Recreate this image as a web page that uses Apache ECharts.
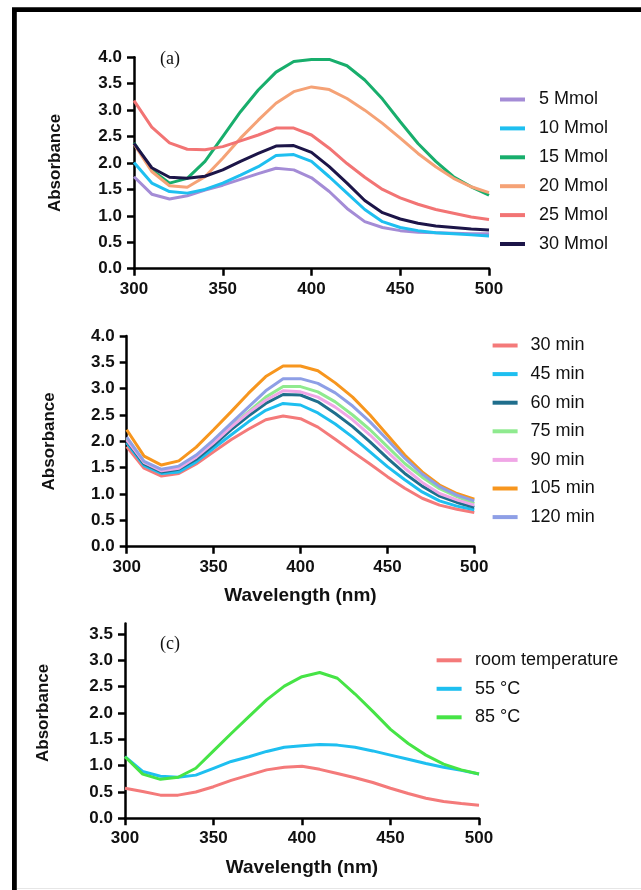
<!DOCTYPE html>
<html>
<head>
<meta charset="utf-8">
<script src="https://cdn.jsdelivr.net/npm/echarts@6/dist/echarts.min.js"></script>
<style>
html,body{margin:0;padding:0;background:#fff;}
#chart{width:641px;height:890px;}
</style>
</head>
<body>
<div id="chart"></div>
<script>
// ---------- data ----------
var wavelength = [300,310,320,330,340,350,360,370,380,390,400,410,420,430,440,450,460,470,480,490,500];
var xTicks = [300,350,400,450,500];
var yTicksAB = [0,0.5,1.0,1.5,2.0,2.5,3.0,3.5,4.0];
var yTicksC = [0,0.5,1.0,1.5,2.0,2.5,3.0,3.5];

// (a) concentration
var namesA = ['5 Mmol','10 Mmol','15 Mmol','20 Mmol','25 Mmol','30 Mmol'];
var mmol5  = [1.74,1.41,1.32,1.38,1.49,1.58,1.69,1.80,1.90,1.87,1.72,1.46,1.14,0.89,0.78,0.72,0.69,0.68,0.67,0.66,0.66];
var mmol10 = [2.01,1.62,1.46,1.43,1.50,1.62,1.77,1.93,2.14,2.16,2.03,1.74,1.43,1.12,0.89,0.78,0.72,0.68,0.66,0.64,0.62];
var mmol15 = [2.38,1.87,1.62,1.71,2.03,2.50,2.97,3.38,3.72,3.92,3.96,3.96,3.84,3.57,3.21,2.78,2.37,2.03,1.74,1.55,1.39];
var mmol20 = [2.36,1.84,1.57,1.54,1.74,2.09,2.47,2.81,3.13,3.35,3.44,3.39,3.22,3.00,2.75,2.47,2.18,1.93,1.71,1.55,1.44];
var mmol25 = [3.18,2.68,2.38,2.26,2.25,2.31,2.42,2.53,2.66,2.66,2.53,2.28,1.99,1.73,1.50,1.34,1.22,1.12,1.05,0.98,0.93];
var mmol30 = [2.37,1.91,1.73,1.71,1.75,1.87,2.03,2.18,2.32,2.33,2.20,1.93,1.62,1.29,1.06,0.94,0.86,0.81,0.78,0.75,0.73];
var colorsA = ['#A48CD6','#1EBFF0','#18AE6C','#F5A276','#F27474','#1C1548'];

// (b) time
var namesB = ['30 min','45 min','60 min','75 min','90 min','105 min','120 min'];
var min30  = [1.90,1.49,1.34,1.39,1.57,1.80,2.03,2.23,2.41,2.48,2.43,2.27,2.04,1.80,1.57,1.33,1.11,0.92,0.79,0.71,0.65];
var min45  = [1.97,1.54,1.39,1.42,1.61,1.87,2.12,2.37,2.59,2.72,2.69,2.54,2.33,2.08,1.80,1.52,1.27,1.04,0.87,0.77,0.70];
var min60  = [2.01,1.57,1.42,1.47,1.66,1.93,2.22,2.48,2.72,2.89,2.88,2.75,2.53,2.28,1.99,1.68,1.39,1.15,0.96,0.84,0.75];
var min75  = [2.06,1.60,1.46,1.51,1.71,1.98,2.28,2.56,2.84,3.04,3.04,2.94,2.75,2.50,2.22,1.90,1.58,1.32,1.10,0.95,0.82];
var min90  = [2.03,1.60,1.44,1.49,1.70,1.97,2.27,2.54,2.78,2.96,2.94,2.84,2.65,2.41,2.12,1.80,1.49,1.22,1.01,0.89,0.79];
var min105 = [2.22,1.72,1.55,1.63,1.89,2.22,2.56,2.91,3.23,3.43,3.43,3.34,3.11,2.84,2.50,2.12,1.74,1.42,1.17,1.01,0.90];
var min120 = [2.08,1.62,1.47,1.53,1.74,2.03,2.34,2.65,2.96,3.19,3.19,3.10,2.92,2.67,2.37,2.03,1.68,1.38,1.14,0.98,0.87];
var colorsB = ['#F47A7A','#1EBFF0','#1F6E8C','#8FEA8F','#F0A6E6','#F7961E','#8E9FE6'];

// (c) temperature
var namesC = ['room temperature','55 °C','85 °C'];
var roomTemp = [0.57,0.51,0.44,0.44,0.50,0.60,0.72,0.82,0.92,0.97,0.99,0.93,0.85,0.77,0.68,0.57,0.47,0.38,0.32,0.28,0.25];
var temp55   = [1.17,0.89,0.80,0.78,0.82,0.95,1.08,1.17,1.27,1.35,1.38,1.40,1.39,1.35,1.28,1.20,1.12,1.04,0.97,0.91,0.84];
var temp85   = [1.17,0.84,0.74,0.78,0.95,1.28,1.61,1.93,2.25,2.51,2.69,2.77,2.66,2.36,2.03,1.69,1.42,1.20,1.03,0.92,0.84];
var colorsC = ['#F47A7A','#1EBFF0','#46E446'];

// ---------- build ----------
var FONT = '"Liberation Sans", Arial, sans-serif';
function pairs(vals){ return wavelength.map(function(w,i){ return [w, vals[i]]; }); }
function fmt1(v){ return Number(v).toFixed(1); }

var grids = [
  {left:134, width:355, top:57.3, height:211.4},
  {left:126.7, width:347.6, top:336, height:210.7},
  {left:125, width:354, top:623.5, height:194.8}
];

function xAxis(idx, withName){
  var a = {
    type:'value', gridIndex:idx, min:300, max:500, interval:50,
    axisLine:{show:true, onZero:false, lineStyle:{color:'#000', width:2.5}},
    axisTick:{show:true, length:7, lineStyle:{color:'#000', width:2.5}, customValues:xTicks},
    axisLabel:{color:'#111', fontFamily:FONT, fontWeight:'bold', fontSize:17, margin:12, customValues:xTicks},
    splitLine:{show:false}
  };
  if (withName){
    a.name = 'Wavelength (nm)';
    a.nameLocation = 'middle';
    a.nameGap = 40;
    a.nameTextStyle = {color:'#111', fontFamily:FONT, fontWeight:'bold', fontSize:19};
  }
  return a;
}
function yAxis(idx, max, ticks, gap, pad){
  return {
    type:'value', gridIndex:idx, min:0, max:max, interval:0.5,
    name:'Absorbance', nameLocation:'middle', nameGap:gap,
    nameTextStyle:{color:'#111', fontFamily:FONT, fontWeight:'bold', fontSize:17, padding:pad||0},
    axisLine:{show:true, onZero:false, lineStyle:{color:'#000', width:2.5}},
    axisTick:{show:true, length:7, lineStyle:{color:'#000', width:2.5}, customValues:ticks},
    axisLabel:{color:'#111', fontFamily:FONT, fontWeight:'bold', fontSize:17, margin:12, formatter:fmt1, customValues:ticks},
    splitLine:{show:false}
  };
}

var series = [];
function addSeries(names, arrs, colors, idx){
  names.forEach(function(n,i){
    series.push({
      name:n, type:'line', xAxisIndex:idx, yAxisIndex:idx,
      data:pairs(arrs[i]), symbol:'none', smooth:false,
      lineStyle:{color:colors[i], width:3}, itemStyle:{color:colors[i]},
      emphasis:{disabled:true}, z: 3
    });
  });
}
addSeries(namesA, [mmol5,mmol10,mmol15,mmol20,mmol25,mmol30], colorsA, 0);
addSeries(namesB, [min30,min45,min60,min75,min90,min105,min120], colorsB, 1);
addSeries(namesC, [roomTemp,temp55,temp85], colorsC, 2);

function legend(names, left, top, gap, padLeft){
  return {
    data:names, orient:'vertical', left:left, top:top, itemGap:gap,
    icon:'rect', itemWidth:25, itemHeight:4, padding:0, selectedMode:false,
    textStyle:{color:'#111', fontFamily:FONT, fontSize:18, lineHeight:18, padding:[0,0,0,padLeft]}
  };
}

var option = {
  backgroundColor:'#fff',
  animation:false,
  grid:grids,
  xAxis:[xAxis(0,false), xAxis(1,true), xAxis(2,true)],
  yAxis:[yAxis(0,4.0,yTicksAB,70), yAxis(1,4.0,yTicksAB,69), yAxis(2,3.7,yTicksC,73,[0,0,0,16])],
  legend:[
    legend(namesA, 500, 90.5, 10.9, 9),
    legend(namesB, 492.6, 336.5, 10.6, 8),
    legend(namesC, 436.6, 651.3, 10.5, 8.5)
  ],
  series:series,
  graphic:[
    {type:'rect', shape:{x:14.4, y:9.7, width:700, height:940}, style:{fill:'none', stroke:'#000', lineWidth:4.8}, z:100},
    {type:'line', shape:{x1:17, y1:888.5, x2:641, y2:888.5}, style:{stroke:'#e6e6e6', lineWidth:1}, z:100},
    {type:'text', left:160, top:50, style:{text:'(a)', font:'18px "Liberation Serif", "Times New Roman", serif', fill:'#111'}},
    {type:'text', left:160, top:635, style:{text:'(c)', font:'18px "Liberation Serif", "Times New Roman", serif', fill:'#111'}}
  ]
};

var chart = echarts.init(document.getElementById('chart'), null, {renderer:'canvas'});
chart.setOption(option);
</script>
</body>
</html>
